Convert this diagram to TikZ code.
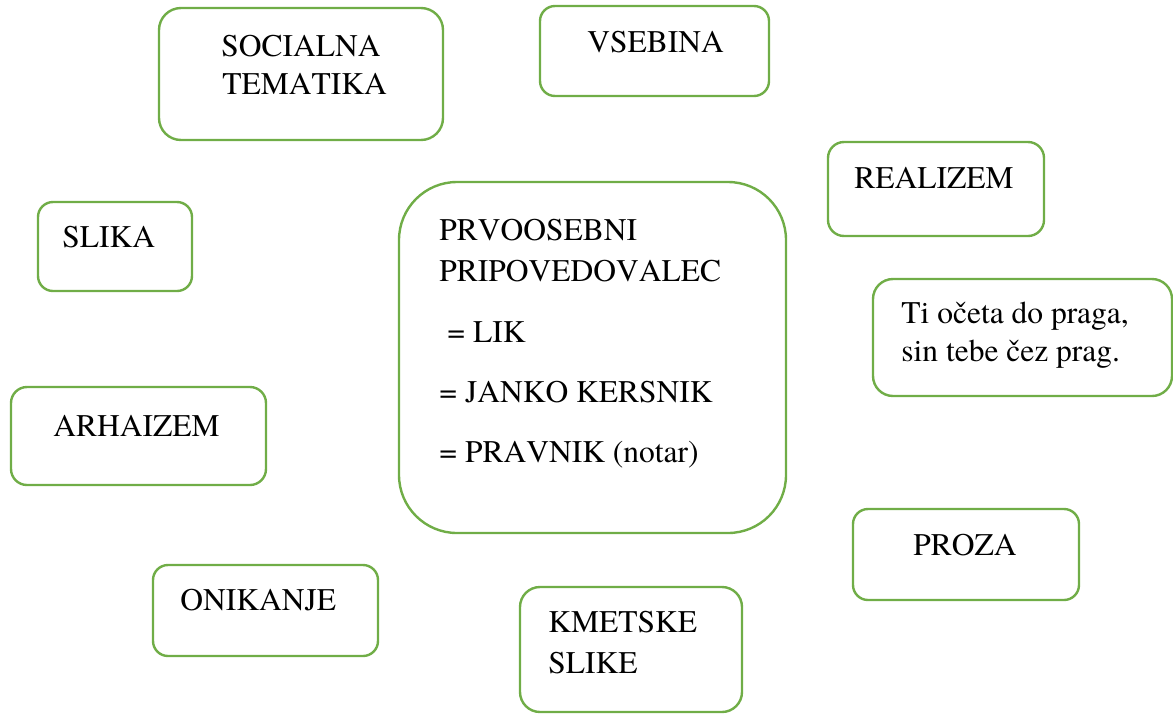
\documentclass[tikz,border=0pt]{standalone}
\usepackage{fontspec}
\setmainfont{TeX Gyre Termes}[Kerning=Off]
\definecolor{boxgreen}{HTML}{70AD47}
\tikzset{
  box/.style={draw=boxgreen, line width=1.2pt, rectangle, inner sep=0pt, outer sep=0pt},
  txt/.style={anchor=base west, inner sep=0pt, font=\rmfamily\fontsize{15.75}{19}\selectfont}
}
\begin{document}
\begin{tikzpicture}[x=0.5pt,y=-0.5pt]
\useasboundingbox (0,0) rectangle (1173,713);
% edit here for the boxes
\node[box, minimum width=142pt, minimum height=66pt, rounded corners=11pt] (soc) at (301,74) {};
\node[box, minimum width=114.5pt, minimum height=45pt, rounded corners=7.5pt] (vseb) at (654.5,51) {};
\node[box, minimum width=108pt, minimum height=47pt, rounded corners=8pt] (real) at (936,189) {};
\node[box, minimum width=77pt, minimum height=44.5pt, rounded corners=7.5pt] (slika) at (115,246.5) {};
\node[box, minimum width=193.5pt, minimum height=175.5pt, rounded corners=29pt] (prvo) at (592.5,357.5) {};
\node[box, minimum width=149.5pt, minimum height=58.5pt, rounded corners=10pt] (rek) at (1022.5,337.5) {};
\node[box, minimum width=127.5pt, minimum height=49pt, rounded corners=8pt] (arh) at (138.5,436) {};
\node[box, minimum width=113pt, minimum height=45.5pt, rounded corners=7.5pt] (proza) at (966,554.5) {};
\node[box, minimum width=112.5pt, minimum height=45.5pt, rounded corners=7.5pt] (onik) at (265.5,610.5) {};
\node[box, minimum width=111pt, minimum height=62.5pt, rounded corners=10pt] (kmet) at (631,649.5) {};
% edit here for the one-line texts
\foreach \name/\x/\y/\t in {vsebt/587/52/VSEBINA, realt/854/188/REALIZEM,
  slikat/62/247/SLIKA, arht/53/436/ARHAIZEM, prozat/913/555/PROZA, onikt/180/610/ONIKANJE}
\node[txt] (\name) at (\x,\y) {\t};
% edit here for the longer texts
\node[txt] (soct1) at (221,56) {SOCIALNA};
\node[txt] (soct2) at (222,94) {TEMATIKA};
\node[txt] (prvot1) at (439,240) {PRVOOSEBNI};
\node[txt] (prvot2) at (439,281) {PRIPOVEDOVALEC};
\node[txt] (prvot3) at (447,342) {= LIK};
\node[txt] (prvot4) at (439,402) {= JANKO KERSNIK};
\node[txt] (prvot5) at (439,462) {= PRAVNIK (notar)};
\node[txt] (rekt1) at (901,323) {Ti očeta do praga,};
\node[txt] (rekt2) at (901,361) {sin tebe čez prag.};
\node[txt] (kmett1) at (548,632) {KMETSKE};
\node[txt] (kmett2) at (548,673) {SLIKE};
\end{tikzpicture}
\end{document}
